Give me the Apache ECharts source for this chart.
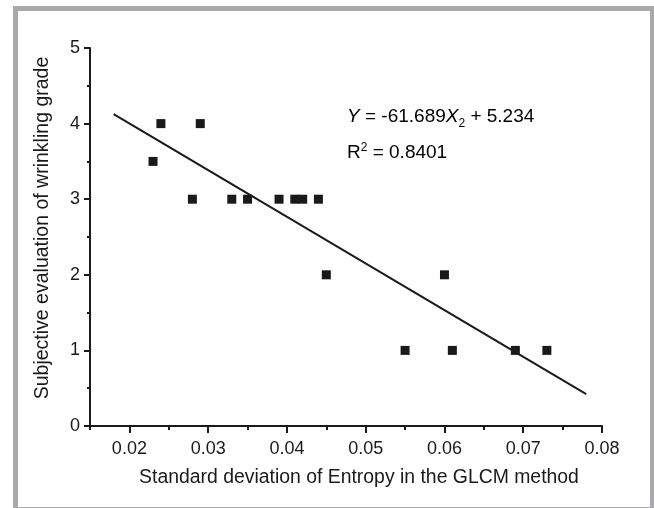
<!DOCTYPE html>
<html>
<head>
<meta charset="utf-8">
<script src="https://cdn.jsdelivr.net/npm/echarts@6/dist/echarts.min.js"></script>
<style>
html,body{margin:0;padding:0;background:#fff;}
#main{width:654px;height:508px;}
</style>
</head>
<body>
<div id="main"></div>
<script>
// Data
const pointsX = [0.023, 0.024, 0.028, 0.029, 0.033, 0.035, 0.039, 0.041, 0.042, 0.044, 0.045, 0.055, 0.060, 0.061, 0.069, 0.073];
const pointsY = [3.5,   4,     3,     4,     3,     3,     3,     3,     3,     3,     2,     1,     2,     1,     1,     1];
const fitX = [0.018, 0.078];
const fitY = [4.124, 0.422];
const xMajorTicks = [0.02, 0.03, 0.04, 0.05, 0.06, 0.07, 0.08];
const xMinorTicks = [0.015, 0.025, 0.035, 0.045, 0.055, 0.065, 0.075];
const yTicks = [0, 1, 2, 3, 4, 5];
const xTitle = 'Standard deviation of Entropy in the GLCM method';
const yTitle = 'Subjective evaluation of wrinkling grade';

const FONT = '"Liberation Sans", Arial, sans-serif';
const INK = '#1a1a1a';

const chart = echarts.init(document.getElementById('main'), null, {renderer: 'canvas'});

const scatterData = pointsX.map((x, i) => [x, pointsY[i]]);
const fitData = fitX.map((x, i) => [x, fitY[i]]);

const option = {
  backgroundColor: '#ffffff',
  animation: false,
  grid: {left: 90, right: 52, top: 48, bottom: 82, containLabel: false},
  xAxis: [{
    type: 'value',
    min: 0.015, max: 0.08,
    name: xTitle,
    nameLocation: 'middle',
    nameGap: 42,
    nameTextStyle: {fontFamily: FONT, fontSize: 19.4, color: INK, padding: [0, 0, 0, 26]},
    axisLine: {show: true, onZero: false, lineStyle: {color: INK, width: 2}},
    axisTick: {show: true, length: 7, lineStyle: {color: INK, width: 2}, customValues: xMajorTicks},
    axisLabel: {show: true, margin: 14, fontFamily: FONT, fontSize: 18, color: INK, customValues: xMajorTicks,
      formatter: v => v.toFixed(2)},
    splitLine: {show: false}
  }, {
    type: 'value',
    position: 'bottom',
    min: 0.015, max: 0.08,
    axisLine: {show: false},
    axisTick: {show: true, length: 4, lineStyle: {color: INK, width: 2}, customValues: xMinorTicks},
    axisLabel: {show: false},
    splitLine: {show: false}
  }],
  yAxis: [{
    type: 'value',
    min: yTicks[0], max: yTicks[yTicks.length - 1], interval: 1,
    name: yTitle,
    nameLocation: 'middle',
    nameGap: 37,
    nameRotate: 90,
    nameTextStyle: {fontFamily: FONT, fontSize: 19.5, color: INK, padding: [0, 0, 0, 18]},
    axisLine: {show: true, onZero: false, lineStyle: {color: INK, width: 2}},
    axisTick: {show: true, length: 6, lineStyle: {color: INK, width: 2}},
    minorTick: {show: true, splitNumber: 2, length: 3, lineStyle: {color: INK, width: 2}},
    axisLabel: {margin: 10, fontFamily: FONT, fontSize: 18, color: INK},
    splitLine: {show: false},
    minorSplitLine: {show: false}
  }],
  series: [{
    type: 'line',
    xAxisIndex: 0,
    data: fitData,
    symbol: 'none',
    lineStyle: {color: INK, width: 2},
    silent: true,
    z: 2
  }, {
    type: 'scatter',
    xAxisIndex: 0,
    data: scatterData,
    symbol: 'rect',
    symbolSize: 9,
    itemStyle: {color: INK, opacity: 1},
    z: 3
  }],
  graphic: [{
    type: 'rect',
    shape: {x: 15.5, y: 8.5, width: 637, height: 501},
    style: {fill: 'none', stroke: '#a9a9ab', lineWidth: 5},
    silent: true,
    z: 100
  }, {
    type: 'text',
    x: 347, y: 117,
    style: {
      text: '{i|Y}{n| = -61.689}{i|X}{s|2}{n| + 5.234}',
      textVerticalAlign: 'middle',
      rich: {
        n: {fontFamily: FONT, fontSize: 19, color: INK, lineHeight: 26},
        i: {fontFamily: FONT, fontSize: 19, color: INK, fontStyle: 'italic', lineHeight: 26},
        s: {fontFamily: FONT, fontSize: 12, color: INK, lineHeight: 12, verticalAlign: 'bottom'}
      }
    },
    z: 50
  }, {
    type: 'text',
    x: 347, y: 153,
    style: {
      text: '{n|R}{s|2}{n| = 0.8401}',
      textVerticalAlign: 'middle',
      rich: {
        n: {fontFamily: FONT, fontSize: 19, color: INK, lineHeight: 22},
        s: {fontFamily: FONT, fontSize: 12, color: INK, lineHeight: 12, verticalAlign: 'top'}
      }
    },
    z: 50
  }]
};

chart.setOption(option);
</script>
</body>
</html>
